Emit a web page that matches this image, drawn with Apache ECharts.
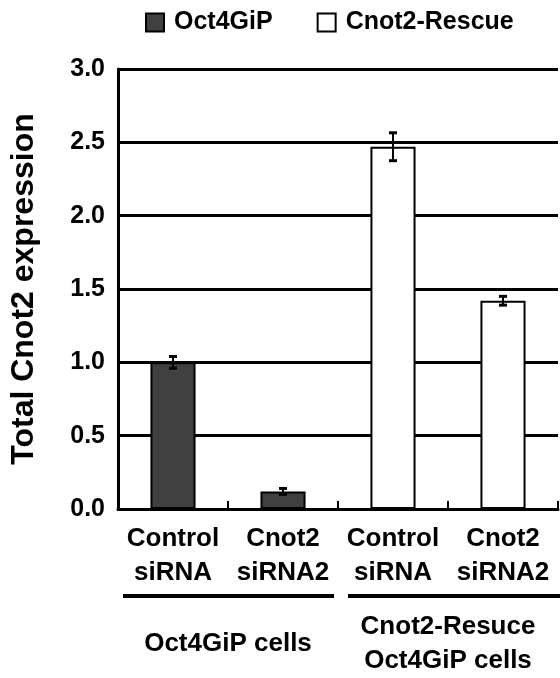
<!DOCTYPE html>
<html>
<head>
<meta charset="utf-8">
<script src="https://cdn.jsdelivr.net/npm/echarts@6/dist/echarts.min.js"></script>
<style>
html,body{margin:0;padding:0;background:#fff;}
#c{width:560px;height:678px;}
</style>
</head>
<body>
<div id="c"></div>
<script>
const categories = ['Control\nsiRNA', 'Cnot2\nsiRNA2', 'Control\nsiRNA', 'Cnot2\nsiRNA2'];
const groups = ['Oct4GiP cells', 'Cnot2-Resuce\nOct4GiP cells'];
const seriesNames = ['Oct4GiP', 'Cnot2-Rescue'];
const oct4Values = [1.00, 0.12, null, null];
const rescueValues = [null, null, 2.47, 1.42];
const errors = [0.04, 0.02, 0.095, 0.03];
const yTicks = [0, 0.5, 1.0, 1.5, 2.0, 2.5, 3.0];

const FONT = "'Liberation Sans', Arial, sans-serif";
const chart = echarts.init(document.getElementById('c'));

const errData = categories.map((c, i) => {
  const v = oct4Values[i] != null ? oct4Values[i] : rescueValues[i];
  return [i, v - errors[i], v + errors[i]];
});

const option = {
  animation: false,
  backgroundColor: '#fff',
  textStyle: {fontFamily: FONT},
  legend: {
    top: 10, left: 145, padding: 0,
    itemWidth: 18, itemHeight: 18, itemGap: 44,
    icon: 'rect',
    data: seriesNames,
    textStyle: {fontFamily: FONT, fontWeight: 'bold', fontSize: 25, color: '#000', padding: [0, 0, 0, 5]}
  },
  grid: {left: 112, right: 2, top: 69, bottom: 164, containLabel: false},
  xAxis: [{
    type: 'category',
    data: categories,
    axisLine: {lineStyle: {color: '#000', width: 3}},
    axisTick: {show: true, inside: true, length: 8, lineStyle: {color: '#000', width: 2}},
    axisLabel: {interval: 0, margin: 13, fontFamily: FONT, fontWeight: 'bold', fontSize: 26, lineHeight: 34, color: '#000'}
  }, {
    type: 'category',
    data: groups,
    position: 'bottom',
    offset: 135,
    axisLine: {show: false},
    axisTick: {show: false},
    axisLabel: {interval: 0, margin: 0, verticalAlign: 'middle', fontFamily: FONT, fontWeight: 'bold', fontSize: 26, lineHeight: 34, color: '#000'}
  }],
  yAxis: {
    type: 'value',
    min: 0, max: 3, interval: 0.5,
    name: 'Total Cnot2 expression',
    nameLocation: 'middle',
    nameRotate: 90,
    nameGap: 78,
    nameTextStyle: {fontFamily: FONT, fontWeight: 'bold', fontSize: 32, color: '#000'},
    axisLine: {show: true, lineStyle: {color: '#000', width: 3}},
    axisTick: {show: false},
    splitLine: {show: true, lineStyle: {color: '#000', width: 3}},
    axisLabel: {margin: 13, formatter: v => v.toFixed(1), fontFamily: FONT, fontWeight: 'bold', fontSize: 25, color: '#000'}
  },
  series: [{
    name: seriesNames[0],
    type: 'bar',
    data: oct4Values,
    barWidth: '41%',
    barGap: '-100%',
    itemStyle: {color: '#404040', borderColor: '#000', borderWidth: 2}
  }, {
    name: seriesNames[1],
    type: 'bar',
    data: rescueValues,
    barWidth: '41%',
    barGap: '-100%',
    itemStyle: {color: '#fff', borderColor: '#000', borderWidth: 2}
  }, {
    type: 'custom',
    z: 10,
    data: errData,
    renderItem: function (params, api) {
      const x = api.value(0);
      const lo = api.coord([x, api.value(1)]);
      const hi = api.coord([x, api.value(2)]);
      const hw = 4;
      return {
        type: 'group',
        children: [
          {type: 'line', shape: {x1: lo[0], y1: lo[1], x2: hi[0], y2: hi[1]}, style: {stroke: '#000', lineWidth: 2}},
          {type: 'line', shape: {x1: lo[0]-hw, y1: lo[1], x2: lo[0]+hw, y2: lo[1]}, style: {stroke: '#000', lineWidth: 3}},
          {type: 'line', shape: {x1: hi[0]-hw, y1: hi[1], x2: hi[0]+hw, y2: hi[1]}, style: {stroke: '#000', lineWidth: 3}}
        ]
      };
    }
  }]
};
chart.setOption(option);

// group bracket lines below category labels
const b0 = chart.convertToPixel({xAxisIndex: 0}, 0);
const b1 = chart.convertToPixel({xAxisIndex: 0}, 1);
const b2 = chart.convertToPixel({xAxisIndex: 0}, 2);
const b3 = chart.convertToPixel({xAxisIndex: 0}, 3);
const step = b1 - b0;
const y0 = chart.convertToPixel({yAxisIndex: 0}, 0);
const lineY = y0 + 87;
chart.setOption({
  graphic: [
    {type: 'line', shape: {x1: b0 - step/2 + 5, y1: lineY, x2: b1 + step/2 - 4, y2: lineY}, style: {stroke: '#000', lineWidth: 4}},
    {type: 'line', shape: {x1: b2 - step/2 + 10, y1: lineY, x2: b3 + step/2 + 4, y2: lineY}, style: {stroke: '#000', lineWidth: 4}}
  ]
});
</script>
</body>
</html>
